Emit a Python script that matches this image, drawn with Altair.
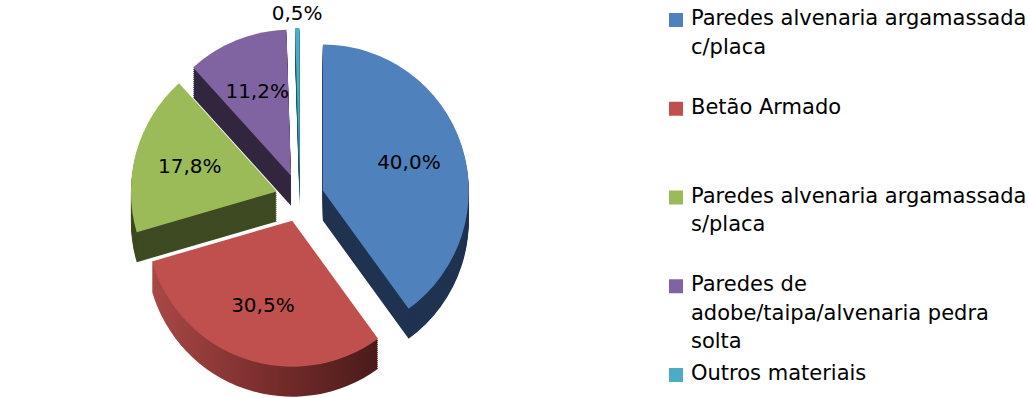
import math
import altair as alt
import pandas as pd

categories = [
    "Paredes alvenaria argamassada c/placa",
    "Betão Armado",
    "Paredes alvenaria argamassada s/placa",
    "Paredes de adobe/taipa/alvenaria pedra solta",
    "Outros materiais",
]
legend_labels = [
    "Paredes alvenaria argamassada\nc/placa",
    "Betão Armado",
    "Paredes alvenaria argamassada\ns/placa",
    "Paredes de\nadobe/taipa/alvenaria pedra\nsolta",
    "Outros materiais",
]
values = [40.0, 30.5, 17.8, 11.2, 0.5]
labels = ["40,0%", "30,5%", "17,8%", "11,2%", "0,5%"]
top_colors = ["#4F81BD", "#C0504D", "#9BBB59", "#8064A2", "#4BACC6"]
side_colors = ["#1F3250", "#7B2C2A", "#3D4A22", "#33263F", "#1E5A6A"]

df = pd.DataFrame({
    "category": categories,
    "legend": legend_labels,
    "value": values,
    "label": labels,
    "idx": list(range(len(values))),
})

R = 146
EXPLODE = 24
DEPTH = 30
W_PIE = 640
H = 398
CY = 198
FONT = "DejaVu Sans"

base = (
    alt.Chart(df)
    .transform_window(cum="sum(value)", sort=[alt.SortField("idx")], frame=[None, 0])
    .transform_calculate(
        start="datum.cum - datum.value",
        mid="(datum.cum - datum.value / 2) / 100 * 2 * PI",
    )
    .transform_calculate(
        cx=f"{EXPLODE} * sin(datum.mid)",
        cy=f"{EXPLODE} * cos(datum.mid)",
        lr=f"datum.value < 2 ? {R + EXPLODE + 14} : {R * 0.62 + EXPLODE}",
    )
    .transform_calculate(
        lx="datum.lr * sin(datum.mid)",
        ly="datum.lr * cos(datum.mid)",
    )
)

xs = alt.Scale(domain=[-300, 340])
ys = alt.Scale(domain=[-(H - CY), CY])
theta = alt.Theta("start:Q", scale=alt.Scale(domain=[0, 100], range=[0, 2 * math.pi]), stack=None)
theta2 = alt.Theta2("cum:Q")
xenc = alt.X("cx:Q", scale=xs, axis=None)
yenc = alt.Y("cy:Q", scale=ys, axis=None)

red_gradient = alt.LinearGradient(
    gradient="linear",
    stops=[
        alt.GradientStop(color="#A84846", offset=0),
        alt.GradientStop(color="#7A2E2C", offset=0.5),
        alt.GradientStop(color="#4A1B1A", offset=1),
    ],
    x1=0, x2=1, y1=0, y2=0,
)

layers = []
for d in range(DEPTH, 0, -2):
    layers.append(
        base.transform_filter(alt.datum.category != categories[1])
        .mark_arc(radius=R, yOffset=d, strokeWidth=0)
        .encode(
            theta=theta, theta2=theta2, x=xenc, y=yenc,
            fill=alt.Fill("category:N", scale=alt.Scale(domain=categories, range=side_colors), legend=None),
        )
    )
    layers.append(
        base.transform_filter(alt.datum.category == categories[1])
        .mark_arc(radius=R, yOffset=d, strokeWidth=0, fill=red_gradient)
        .encode(theta=theta, theta2=theta2, x=xenc, y=yenc)
    )
top = base.mark_arc(radius=R, strokeWidth=0).encode(
    theta=theta, theta2=theta2, x=xenc, y=yenc,
    color=alt.Color("category:N", scale=alt.Scale(domain=categories, range=top_colors), legend=None),
)
text = base.mark_text(font=FONT, fontSize=20, color="#000000").encode(
    x=alt.X("lx:Q", scale=xs, axis=None),
    y=alt.Y("ly:Q", scale=ys, axis=None),
    text="label:N",
)
pie = alt.layer(*layers, top, text).properties(width=W_PIE, height=H)

ly_scale = alt.Scale(domain=categories, range=[20, 375], padding=0)
leg_sq = alt.Chart(df).mark_square(size=196, opacity=1).encode(
    x=alt.value(36),
    y=alt.Y("category:N", sort=categories, scale=ly_scale, axis=None),
    color=alt.Color("category:N", scale=alt.Scale(domain=categories, range=top_colors), legend=None),
)
leg_tx = alt.Chart(df).mark_text(
    font=FONT, fontSize=21, align="left", baseline="top", lineBreak="\n",
    lineHeight=28.5, dy=-12, color="#000000",
).encode(
    x=alt.value(51),
    y=alt.Y("category:N", sort=categories, scale=ly_scale, axis=None),
    text="legend:N",
)
legend = alt.layer(leg_sq, leg_tx).properties(width=H - 9, height=H)

chart = (
    alt.hconcat(pie, legend, spacing=0)
    .resolve_scale(color="independent", y="independent")
    .properties(padding=0, background="#ffffff")
    .configure_view(stroke=None)
)

chart.save("out.html", embed_options={"renderer": "svg", "actions": False})
